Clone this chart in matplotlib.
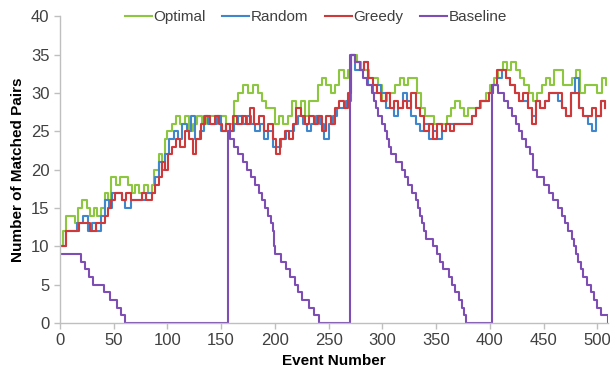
import matplotlib
matplotlib.use('Agg')
from matplotlib import pyplot as plt

# change points (event number, value); each value holds until the next event
optimal_x = [0, 3, 6, 10, 14, 17, 21, 25, 28, 32, 35, 38, 42, 45, 48, 52, 56, 60, 63, 67, 70,
             74, 78, 82, 86, 88, 92, 95, 98, 100, 104, 108, 112, 116, 120, 124, 128, 132, 136,
             140, 145, 150, 155, 158, 162, 166, 170, 175, 180, 184, 188, 192, 196, 200, 204,
             208, 212, 216, 220, 224, 228, 232, 236, 240, 244, 248, 252, 256, 260, 264, 268,
             271, 276, 280, 284, 288, 292, 296, 300, 304, 308, 312, 316, 320, 324, 328, 332,
             336, 340, 344, 348, 352, 356, 360, 364, 368, 372, 376, 380, 384, 388, 392, 396,
             400, 404, 408, 412, 416, 420, 424, 428, 432, 436, 440, 444, 448, 452, 456, 460,
             464, 468, 472, 476, 480, 484, 488, 492, 496, 500, 504, 508]
optimal_y = [10, 12, 14, 14, 13, 15, 16, 15, 14, 15, 14, 15, 17, 16, 19, 18, 19, 19, 18, 17, 18,
             17, 18, 17, 18, 20, 22, 21, 24, 25, 26, 27, 26, 27, 25, 26, 27, 26, 27,
             27, 27, 27, 25, 26, 29, 30, 31, 30, 31, 30, 29, 28, 28, 26, 27,
             26, 27, 29, 28, 29, 27, 29, 29, 31, 32, 31, 30, 31, 33, 32, 33,
             35, 34, 33, 33, 32, 32, 31, 29, 30, 30, 31, 32, 31, 32, 32, 30,
             28, 27, 27, 26, 26, 26, 27, 28, 29, 28, 27, 28, 28, 28, 29, 30,
             31, 32, 33, 34, 33, 34, 33, 32, 31, 30, 29, 30, 31, 32, 31, 33,
             33, 31, 31, 32, 33, 30, 31, 31, 31, 30, 32, 31]

random_x = [0, 6, 16, 22, 26, 30, 34, 38, 42, 46, 49, 54, 58, 61, 66, 72, 80, 86, 89, 92, 95,
            98, 102, 106, 110, 114, 118, 122, 126, 130, 134, 138, 142, 146, 150, 155, 158, 162,
            166, 170, 174, 178, 182, 186, 190, 194, 198, 202, 206, 210, 214, 218, 222, 226,
            230, 234, 238, 242, 246, 250, 254, 258, 262, 266, 271, 275, 279, 283, 287, 291,
            295, 299, 303, 307, 311, 315, 319, 323, 327, 331, 335, 339, 343, 347, 351, 355,
            359, 363, 367, 371, 375, 379, 383, 387, 391, 395, 399, 403, 407, 411, 415, 419,
            423, 427, 431, 435, 439, 443, 447, 451, 455, 459, 463, 467, 471, 475, 479, 483,
            487, 491, 495, 499, 503, 507]
random_y = [10, 12, 13, 14, 12, 13, 12, 14, 16, 15, 17, 17, 16, 15, 16, 16, 17, 17, 19, 21, 20,
            22, 24, 25, 24, 26, 25, 27, 24, 25, 27, 26, 26, 27, 25, 26, 25, 26,
            27, 26, 27, 26, 25, 26, 24, 25, 23, 23, 24, 25, 25, 26, 27, 26,
            25, 26, 27, 26, 24, 26, 27, 28, 28, 29, 35, 33, 33, 34, 31, 30,
            31, 30, 28, 28, 27, 28, 30, 29, 27, 26, 25, 26, 24, 25, 24, 25,
            26, 26, 26, 26, 26, 26, 27, 28, 29, 29, 30, 31, 32, 33, 32, 31,
            30, 29, 29, 28, 27, 29, 28, 29, 30, 30, 29, 28, 27, 30, 32, 28,
            27, 26, 25, 27, 29, 28]

greedy_x = [0, 6, 18, 28, 34, 42, 45, 48, 51, 58, 62, 66, 76, 80, 86, 89, 92, 95, 98, 101,
            104, 108, 112, 116, 120, 124, 127, 131, 135, 140, 144, 148, 151, 155, 158, 161,
            165, 169, 173, 177, 181, 185, 190, 194, 198, 201, 205, 209, 213, 217, 220, 224,
            228, 232, 236, 240, 244, 248, 252, 256, 260, 264, 268, 271, 275, 279, 283, 287,
            291, 295, 299, 303, 307, 311, 315, 319, 323, 327, 331, 335, 339, 343, 347, 351,
            355, 359, 363, 367, 371, 375, 379, 383, 387, 391, 395, 399, 403, 407, 411, 415,
            419, 423, 427, 431, 435, 439, 443, 447, 451, 455, 459, 463, 467, 471, 475, 479,
            483, 487, 491, 495, 499, 503, 507]
greedy_y = [10, 12, 13, 12, 13, 14, 15, 16, 17, 16, 17, 16, 17, 16, 17, 18, 19, 21, 20, 22,
            23, 24, 23, 25, 24, 22, 24, 26, 27, 26, 27, 26, 25, 26, 25, 27,
            26, 27, 26, 28, 26, 27, 25, 26, 24, 22, 24, 25, 24, 26, 28, 27,
            26, 27, 26, 27, 25, 27, 26, 28, 29, 28, 30, 35, 34, 33, 34, 32,
            31, 30, 29, 30, 28, 29, 28, 29, 28, 30, 28, 27, 25, 26, 24, 26,
            25, 26, 25, 26, 26, 26, 26, 27, 28, 29, 29, 30, 31, 33, 33, 32,
            31, 30, 29, 30, 28, 26, 29, 28, 29, 30, 30, 30, 28, 27, 30, 30,
            28, 27, 27, 28, 27, 29, 28]

baseline_x = [0, 20, 23, 27, 31, 41, 47, 53, 57, 61,
              156, 158, 162, 166, 170, 174, 178, 182, 185, 188, 191, 194, 196, 198, 199, 200,
              206, 210, 214, 219, 222, 225, 232, 236, 241,
              270, 275, 279, 282, 286, 290, 292, 294, 296, 300, 302, 304, 306, 308, 313, 318,
              321, 324, 328, 331, 333, 335, 337, 339, 341, 347, 351, 354, 356, 362, 365, 368,
              371, 374, 376, 378,
              402, 408, 413, 417, 421, 424, 427, 430, 434, 437, 440, 444, 450, 455, 459, 463,
              467, 470, 473, 476, 478, 480, 482, 485, 487, 490, 494, 497, 500, 503, 510]
baseline_y = [9, 8, 7, 6, 5, 4, 3, 2, 1, 0,
              25, 24, 23, 22, 21, 20, 19, 18, 17, 16, 15, 14, 13, 12, 10, 9,
              8, 7, 6, 5, 4, 3, 2, 1, 0,
              35, 34, 33, 32, 31, 30, 29, 28, 27, 26, 25, 24, 23, 22, 21, 20,
              19, 18, 17, 16, 15, 14, 13, 12, 11, 10, 9, 8, 7, 6, 5, 4,
              3, 2, 1, 0,
              31, 30, 29, 28, 27, 26, 25, 24, 23, 22, 20, 19, 18, 17, 16, 15,
              14, 13, 12, 11, 10, 9, 8, 7, 6, 5, 4, 3, 2, 1, 0]

series = [
    ('Optimal', optimal_x, optimal_y, '#8DC63F'),
    ('Random', random_x, random_y, '#3F86CC'),
    ('Greedy', greedy_x, greedy_y, '#D0393A'),
    ('Baseline', baseline_x, baseline_y, '#7D4FB4'),
]


def main():
    plt.rcParams['font.family'] = ['Liberation Sans', 'DejaVu Sans']
    fig = plt.figure(figsize=(6.10, 3.76), dpi=100)
    ax = fig.add_axes([0.098, 0.141, 0.899, 0.816])

    for name, xs, ys, color in series:
        ax.plot(xs, ys, drawstyle='steps-post', color=color, lw=1.5, label=name)

    ax.set_xlim(0, 510)
    ax.set_ylim(0, 40)
    ax.set_xticks(range(0, 501, 50))
    ax.set_yticks(range(0, 41, 5))

    for side in ['top', 'right']:
        ax.spines[side].set_visible(False)
    for side in ['left', 'bottom']:
        ax.spines[side].set_color('#BFBFBF')
        ax.spines[side].set_linewidth(1.0)
    ax.tick_params(axis='both', colors='#BFBFBF', labelcolor='#404040',
                   labelsize=12, length=4, width=1.0)

    ax.set_xlabel('Event Number', fontsize=11, fontweight='bold', labelpad=4)
    ax.set_ylabel('Number of Matched Pairs', fontsize=11, fontweight='bold', labelpad=4)

    ax.legend(loc='upper center', bbox_to_anchor=(0.467, 1.065), ncol=4, frameon=False,
              fontsize=11, handlelength=1.75, handletextpad=0.1, columnspacing=1.1,
              labelcolor='#404040')

    fig.savefig('out.png', dpi=100)


if __name__ == '__main__':
    main()
